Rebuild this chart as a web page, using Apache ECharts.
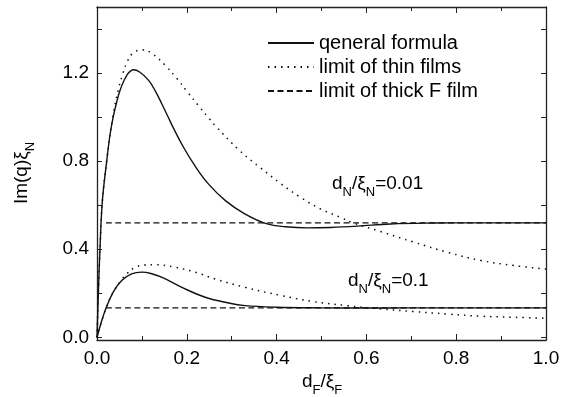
<!DOCTYPE html>
<html><head><meta charset="utf-8">
<script src="https://cdn.jsdelivr.net/npm/echarts@6/dist/echarts.min.js"></script>
<style>html,body{margin:0;padding:0;background:#fff}#c{width:574px;height:397px}</style>
</head><body><div id="c"></div>
<script>
// ---- data ----
const xTickValues = [0, 0.2, 0.4, 0.6, 0.8, 1.0];
const yTickValues = [0, 0.4, 0.8, 1.2];
const yAllTickValues = [0, 0.2, 0.4, 0.6, 0.8, 1.0, 1.2, 1.4];
const legendNames = ['qeneral formula', 'limit of thin films', 'limit of thick F film'];
const annotationTexts = ['{a|d}{s|N}{a|/ξ}{s|N}{a|=0.01}', '{a|d}{s|N}{a|/ξ}{s|N}{a|=0.1}'];
const xTitle = '{a|d}{s|F}{a|/ξ}{s|F}';
const yTitle = '{a|Im(q)ξ}{s|N}';

// dN/xiN = 0.01
const general001 = [[0,0],[0.003,0.2],[0.007,0.42],[0.012,0.62],[0.0216,0.80],[0.029,0.92],[0.036,1.0],[0.044,1.07],[0.051,1.12],[0.06,1.165],[0.07,1.2],[0.081,1.215],[0.095,1.205],[0.115,1.167],[0.13,1.118],[0.144,1.062],[0.159,0.998],[0.17,0.951],[0.193,0.862],[0.219,0.776],[0.248,0.697],[0.286,0.621],[0.329,0.561],[0.379,0.515],[0.42,0.502],[0.468,0.497],[0.52,0.499],[0.58,0.505],[0.654,0.515],[0.75,0.519],[0.85,0.52],[1.0,0.52]];
const thin001 = [[0,0],[0.003,0.2],[0.007,0.42],[0.012,0.62],[0.0216,0.80],[0.036,1.01],[0.048,1.13],[0.058,1.2],[0.068,1.255],[0.079,1.288],[0.0997,1.306],[0.123,1.288],[0.152,1.235],[0.178,1.175],[0.2015,1.114],[0.2255,1.053],[0.25,0.993],[0.263,0.962],[0.317,0.849],[0.364,0.770],[0.408,0.700],[0.453,0.636],[0.498,0.583],[0.542,0.545],[0.57,0.52],[0.632,0.48],[0.706,0.432],[0.781,0.386],[0.855,0.349],[0.929,0.326],[1.0,0.31]];
const thick001 = [[0.02,0.52],[1.0,0.52]];
// dN/xiN = 0.1
const general01 = [[0,0],[0.009,0.065],[0.018,0.121],[0.036,0.205],[0.055,0.258],[0.077,0.288],[0.0997,0.296],[0.12,0.29],[0.144,0.273],[0.189,0.227],[0.241,0.182],[0.293,0.156],[0.33,0.144],[0.4,0.137],[0.5,0.134],[0.6,0.133],[0.7,0.134],[0.85,0.134],[1.0,0.134]];
const thin01 = [[0,0],[0.018,0.121],[0.036,0.205],[0.055,0.262],[0.066,0.288],[0.085,0.318],[0.105,0.328],[0.129,0.330],[0.174,0.318],[0.219,0.296],[0.263,0.265],[0.33,0.227],[0.41,0.19],[0.48,0.163],[0.557,0.144],[0.632,0.129],[0.706,0.117],[0.78,0.106],[0.855,0.096],[0.93,0.091],[1.0,0.087]];
const thick01 = [[0.02,0.134],[1.0,0.134]];

// ---- chart ----
const FONT = 'Liberation Sans, Arial, sans-serif';
const INK = '#111';
const chart = echarts.init(document.getElementById('c'), null, {renderer: 'canvas'});

const axisLineStyle = {show: true, onZero: false, lineStyle: {color: '#222', width: 1.3}};
function xAxisCfg(pos, labels) {
  return {
    type: 'value', position: pos, min: 0, max: 1, interval: 0.2,
    axisLine: axisLineStyle,
    axisTick: {show: true, inside: true, length: 6, lineStyle: {color: '#222', width: 1}},
    minorTick: {show: true, splitNumber: 2, length: 4, lineStyle: {color: '#222', width: 1}},
    axisLabel: {show: labels, fontSize: 19, fontFamily: FONT, color: '#000', margin: 9,
      customValues: xTickValues, formatter: v => v.toFixed(1)},
    splitLine: {show: false}
  };
}
function yAxisCfg(pos, labels) {
  return {
    type: 'value', position: pos, min: -0.012, max: 1.5,
    axisLine: axisLineStyle,
    axisTick: {show: true, inside: true, length: 5, customValues: yAllTickValues, lineStyle: {color: '#222', width: 1}},
    axisLabel: {show: labels, fontSize: 19, fontFamily: FONT, color: '#000', margin: 8,
      customValues: yTickValues, formatter: v => v.toFixed(1)},
    splitLine: {show: false}
  };
}
function lineSeries(name, data, kind) {
  const ls = {color: INK, width: 1.4, type: 'solid'};
  if (kind === 'dot') { ls.type = [1.5, 5]; ls.width = 1.5; }
  if (kind === 'dash') { ls.type = [6, 3.5]; ls.width = 1.3; }
  return {type: 'line', name, data, xAxisIndex: 0, yAxisIndex: 0, showSymbol: false, symbol: 'none',
    smooth: 0.4, lineStyle: ls, itemStyle: {color: INK}, silent: true, animation: false};
}
const richA = {fontSize: 19, fontFamily: FONT, fill: '#000', lineHeight: 30};
const richS = {fontSize: 13, fontFamily: FONT, fill: '#000', lineHeight: 13, padding: [17, 0, 0, 0]};
function richText(text, x, y, align, vAlign, rot) {
  return {type: 'text', x, y, rotation: rot || 0, silent: true,
    style: {text, align, verticalAlign: vAlign, rich: {a: richA, s: richS}, fill: '#000'}};
}

chart.setOption({
  animation: false,
  backgroundColor: '#fff',
  grid: {left: 97, right: 28, top: 7, bottom: 57, containLabel: false},
  xAxis: [xAxisCfg('bottom', true), xAxisCfg('top', false)],
  yAxis: [yAxisCfg('left', true), yAxisCfg('right', false)],
  legend: {
    data: legendNames, orient: 'vertical', left: 267, top: 33, padding: 0,
    itemWidth: 46, itemHeight: 14, itemGap: 4, selectedMode: false,
    itemStyle: {opacity: 0},
    textStyle: {fontSize: 20, fontFamily: FONT, color: '#000'}
  },
  series: [
    lineSeries(legendNames[0], general001, 'solid'),
    lineSeries(legendNames[1], thin001, 'dot'),
    lineSeries(legendNames[2], thick001, 'dash'),
    lineSeries(legendNames[0], general01, 'solid'),
    lineSeries(legendNames[1], thin01, 'dot'),
    lineSeries(legendNames[2], thick01, 'dash')
  ],
  graphic: [
    richText(annotationTexts[0], 332, 169, 'left', 'top'),
    richText(annotationTexts[1], 348, 266, 'left', 'top'),
    richText(xTitle, 322, 367, 'center', 'top'),
    richText(yTitle, 22, 173, 'center', 'middle', Math.PI / 2)
  ]
});
</script></body></html>
